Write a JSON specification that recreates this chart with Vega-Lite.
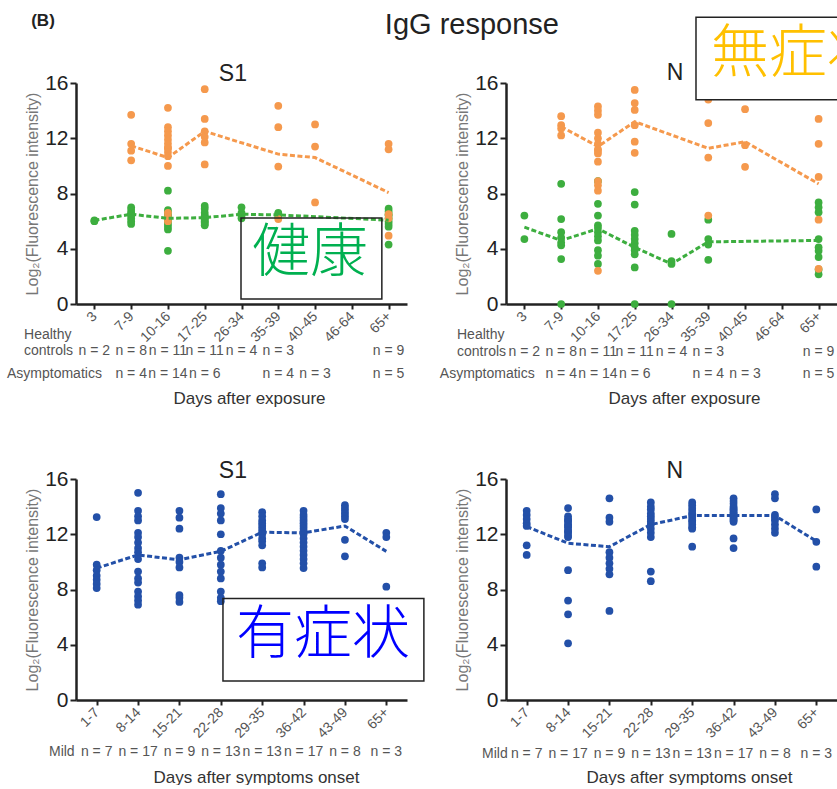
{
"$schema":"https://vega.github.io/schema/vega-lite/v6.json",
"padding":{"left":6,"top":10,"right":0,"bottom":0},
"columns":2,
"bounds":"flush",
"spacing":{"row":175,"column":99},
"config":{"view":{"stroke":null},"font":"Liberation Sans",
 "axisY":{"titleFontSize":16,"titleFontWeight":"normal","titleColor":"#777","titlePadding":4,"labelFontSize":21,"labelColor":"#222","labelPadding":2,"tickSize":6,"tickWidth":2,"tickColor":"#222","domainColor":"#222","domainWidth":2.5,"grid":false},
 "axisX":{"titleBaseline":"middle","titleFontSize":17,"titleFontWeight":"normal","titleColor":"#333","labelAngle":-45,"labelAlign":"right","labelBaseline":"middle","labelFontSize":14,"labelColor":"#555","labelPadding":5,"tickSize":5,"tickWidth":2,"tickColor":"#222","domainColor":"#222","domainWidth":2.5,"grid":false}},
"datasets":{
"tl_pts":[
{"days":"3","group":"Healthy controls","value":6.05},{"days":"3","group":"Healthy controls","value":6.0},
{"days":"7-9","group":"Healthy controls","value":7.0},{"days":"7-9","group":"Healthy controls","value":6.8},{"days":"7-9","group":"Healthy controls","value":6.6},{"days":"7-9","group":"Healthy controls","value":6.5},{"days":"7-9","group":"Healthy controls","value":6.4},{"days":"7-9","group":"Healthy controls","value":6.2},{"days":"7-9","group":"Healthy controls","value":6.0},{"days":"7-9","group":"Healthy controls","value":5.8},
{"days":"10-16","group":"Healthy controls","value":8.2},{"days":"10-16","group":"Healthy controls","value":6.8},{"days":"10-16","group":"Healthy controls","value":6.6},{"days":"10-16","group":"Healthy controls","value":6.4},{"days":"10-16","group":"Healthy controls","value":6.3},{"days":"10-16","group":"Healthy controls","value":6.2},{"days":"10-16","group":"Healthy controls","value":6.0},{"days":"10-16","group":"Healthy controls","value":5.8},{"days":"10-16","group":"Healthy controls","value":5.6},{"days":"10-16","group":"Healthy controls","value":5.4},{"days":"10-16","group":"Healthy controls","value":3.85},
{"days":"17-25","group":"Healthy controls","value":7.1},{"days":"17-25","group":"Healthy controls","value":6.9},{"days":"17-25","group":"Healthy controls","value":6.6},{"days":"17-25","group":"Healthy controls","value":6.4},{"days":"17-25","group":"Healthy controls","value":6.3},{"days":"17-25","group":"Healthy controls","value":6.2},{"days":"17-25","group":"Healthy controls","value":6.1},{"days":"17-25","group":"Healthy controls","value":6.0},{"days":"17-25","group":"Healthy controls","value":5.9},{"days":"17-25","group":"Healthy controls","value":5.8},{"days":"17-25","group":"Healthy controls","value":5.7},
{"days":"26-34","group":"Healthy controls","value":7.0},{"days":"26-34","group":"Healthy controls","value":6.6},{"days":"26-34","group":"Healthy controls","value":6.4},{"days":"26-34","group":"Healthy controls","value":6.2},
{"days":"35-39","group":"Healthy controls","value":6.6},{"days":"35-39","group":"Healthy controls","value":6.5},{"days":"35-39","group":"Healthy controls","value":6.3},
{"days":"65+","group":"Healthy controls","value":6.9},{"days":"65+","group":"Healthy controls","value":6.7},{"days":"65+","group":"Healthy controls","value":6.5},{"days":"65+","group":"Healthy controls","value":6.4},{"days":"65+","group":"Healthy controls","value":6.2},{"days":"65+","group":"Healthy controls","value":6.0},{"days":"65+","group":"Healthy controls","value":5.8},{"days":"65+","group":"Healthy controls","value":5.6},{"days":"65+","group":"Healthy controls","value":4.3},
{"days":"7-9","group":"Asymptomatics","value":13.7},{"days":"7-9","group":"Asymptomatics","value":11.6},{"days":"7-9","group":"Asymptomatics","value":11.1},{"days":"7-9","group":"Asymptomatics","value":10.4},
{"days":"10-16","group":"Asymptomatics","value":14.2},{"days":"10-16","group":"Asymptomatics","value":12.8},{"days":"10-16","group":"Asymptomatics","value":12.5},{"days":"10-16","group":"Asymptomatics","value":12.2},{"days":"10-16","group":"Asymptomatics","value":11.9},{"days":"10-16","group":"Asymptomatics","value":11.6},{"days":"10-16","group":"Asymptomatics","value":11.3},{"days":"10-16","group":"Asymptomatics","value":11.3},{"days":"10-16","group":"Asymptomatics","value":11.0},{"days":"10-16","group":"Asymptomatics","value":10.7},{"days":"10-16","group":"Asymptomatics","value":10.0},{"days":"10-16","group":"Asymptomatics","value":6.6},{"days":"10-16","group":"Asymptomatics","value":6.3},{"days":"10-16","group":"Asymptomatics","value":6.0},
{"days":"17-25","group":"Asymptomatics","value":15.55},{"days":"17-25","group":"Asymptomatics","value":13.4},{"days":"17-25","group":"Asymptomatics","value":12.5},{"days":"17-25","group":"Asymptomatics","value":12.1},{"days":"17-25","group":"Asymptomatics","value":11.7},{"days":"17-25","group":"Asymptomatics","value":10.1},
{"days":"35-39","group":"Asymptomatics","value":14.35},{"days":"35-39","group":"Asymptomatics","value":12.8},{"days":"35-39","group":"Asymptomatics","value":9.95},{"days":"35-39","group":"Asymptomatics","value":6.15},
{"days":"40-45","group":"Asymptomatics","value":13.0},{"days":"40-45","group":"Asymptomatics","value":11.4},{"days":"40-45","group":"Asymptomatics","value":7.35},
{"days":"65+","group":"Asymptomatics","value":11.6},{"days":"65+","group":"Asymptomatics","value":11.2},{"days":"65+","group":"Asymptomatics","value":6.5},{"days":"65+","group":"Asymptomatics","value":6.2},{"days":"65+","group":"Asymptomatics","value":4.95}
],
"tl_mean":[
{"days":"3","group":"Healthy controls","value":6.05},{"days":"7-9","group":"Healthy controls","value":6.5},{"days":"10-16","group":"Healthy controls","value":6.2},{"days":"17-25","group":"Healthy controls","value":6.25},{"days":"26-34","group":"Healthy controls","value":6.5},{"days":"35-39","group":"Healthy controls","value":6.45},{"days":"65+","group":"Healthy controls","value":6.07},
{"days":"7-9","group":"Asymptomatics","value":11.45},{"days":"10-16","group":"Asymptomatics","value":10.6},{"days":"17-25","group":"Asymptomatics","value":12.5},{"days":"35-39","group":"Asymptomatics","value":10.85},{"days":"40-45","group":"Asymptomatics","value":10.6},{"days":"65+","group":"Asymptomatics","value":8.07}
],
"tr_pts":[
{"days":"3","group":"Healthy controls","value":6.4},{"days":"3","group":"Healthy controls","value":4.7},
{"days":"7-9","group":"Healthy controls","value":8.7},{"days":"7-9","group":"Healthy controls","value":6.15},{"days":"7-9","group":"Healthy controls","value":5.2},{"days":"7-9","group":"Healthy controls","value":4.8},{"days":"7-9","group":"Healthy controls","value":4.45},{"days":"7-9","group":"Healthy controls","value":4.25},{"days":"7-9","group":"Healthy controls","value":3.25},{"days":"7-9","group":"Healthy controls","value":0},
{"days":"10-16","group":"Healthy controls","value":8.9},{"days":"10-16","group":"Healthy controls","value":7.25},{"days":"10-16","group":"Healthy controls","value":6.4},{"days":"10-16","group":"Healthy controls","value":5.7},{"days":"10-16","group":"Healthy controls","value":5.5},{"days":"10-16","group":"Healthy controls","value":5.2},{"days":"10-16","group":"Healthy controls","value":4.9},{"days":"10-16","group":"Healthy controls","value":4.6},{"days":"10-16","group":"Healthy controls","value":3.9},{"days":"10-16","group":"Healthy controls","value":3.5},{"days":"10-16","group":"Healthy controls","value":2.9},
{"days":"17-25","group":"Healthy controls","value":8.1},{"days":"17-25","group":"Healthy controls","value":7.2},{"days":"17-25","group":"Healthy controls","value":5.3},{"days":"17-25","group":"Healthy controls","value":5.0},{"days":"17-25","group":"Healthy controls","value":4.7},{"days":"17-25","group":"Healthy controls","value":4.4},{"days":"17-25","group":"Healthy controls","value":4.1},{"days":"17-25","group":"Healthy controls","value":3.9},{"days":"17-25","group":"Healthy controls","value":3.6},{"days":"17-25","group":"Healthy controls","value":2.65},{"days":"17-25","group":"Healthy controls","value":0},
{"days":"26-34","group":"Healthy controls","value":5.07},{"days":"26-34","group":"Healthy controls","value":3.1},{"days":"26-34","group":"Healthy controls","value":2.9},{"days":"26-34","group":"Healthy controls","value":0},
{"days":"35-39","group":"Healthy controls","value":6.1},{"days":"35-39","group":"Healthy controls","value":4.7},{"days":"35-39","group":"Healthy controls","value":4.3},{"days":"35-39","group":"Healthy controls","value":3.2},
{"days":"65+","group":"Healthy controls","value":7.35},{"days":"65+","group":"Healthy controls","value":7.0},{"days":"65+","group":"Healthy controls","value":6.65},{"days":"65+","group":"Healthy controls","value":4.7},{"days":"65+","group":"Healthy controls","value":4.1},{"days":"65+","group":"Healthy controls","value":3.85},{"days":"65+","group":"Healthy controls","value":3.4},{"days":"65+","group":"Healthy controls","value":2.5},{"days":"65+","group":"Healthy controls","value":2.15},
{"days":"7-9","group":"Asymptomatics","value":13.6},{"days":"7-9","group":"Asymptomatics","value":12.95},{"days":"7-9","group":"Asymptomatics","value":12.7},{"days":"7-9","group":"Asymptomatics","value":12.2},
{"days":"10-16","group":"Asymptomatics","value":14.3},{"days":"10-16","group":"Asymptomatics","value":14.0},{"days":"10-16","group":"Asymptomatics","value":13.7},{"days":"10-16","group":"Asymptomatics","value":12.4},{"days":"10-16","group":"Asymptomatics","value":12.0},{"days":"10-16","group":"Asymptomatics","value":11.6},{"days":"10-16","group":"Asymptomatics","value":11.2},{"days":"10-16","group":"Asymptomatics","value":11.1},{"days":"10-16","group":"Asymptomatics","value":10.9},{"days":"10-16","group":"Asymptomatics","value":10.3},{"days":"10-16","group":"Asymptomatics","value":8.9},{"days":"10-16","group":"Asymptomatics","value":8.6},{"days":"10-16","group":"Asymptomatics","value":8.2},{"days":"10-16","group":"Asymptomatics","value":2.4},
{"days":"17-25","group":"Asymptomatics","value":15.5},{"days":"17-25","group":"Asymptomatics","value":14.55},{"days":"17-25","group":"Asymptomatics","value":14.05},{"days":"17-25","group":"Asymptomatics","value":12.95},{"days":"17-25","group":"Asymptomatics","value":11.75},{"days":"17-25","group":"Asymptomatics","value":10.95},
{"days":"35-39","group":"Asymptomatics","value":14.8},{"days":"35-39","group":"Asymptomatics","value":13.1},{"days":"35-39","group":"Asymptomatics","value":10.6},{"days":"35-39","group":"Asymptomatics","value":6.4},
{"days":"40-45","group":"Asymptomatics","value":14.1},{"days":"40-45","group":"Asymptomatics","value":11.5},{"days":"40-45","group":"Asymptomatics","value":9.93},
{"days":"65+","group":"Asymptomatics","value":13.4},{"days":"65+","group":"Asymptomatics","value":11.6},{"days":"65+","group":"Asymptomatics","value":9.2},{"days":"65+","group":"Asymptomatics","value":6.1},{"days":"65+","group":"Asymptomatics","value":2.55}
],
"tr_mean":[
{"days":"3","group":"Healthy controls","value":5.56},{"days":"7-9","group":"Healthy controls","value":4.6},{"days":"10-16","group":"Healthy controls","value":5.45},{"days":"17-25","group":"Healthy controls","value":4.1},{"days":"26-34","group":"Healthy controls","value":2.9},{"days":"35-39","group":"Healthy controls","value":4.5},{"days":"65+","group":"Healthy controls","value":4.6},
{"days":"7-9","group":"Asymptomatics","value":12.84},{"days":"10-16","group":"Asymptomatics","value":11.4},{"days":"17-25","group":"Asymptomatics","value":13.2},{"days":"35-39","group":"Asymptomatics","value":11.27},{"days":"40-45","group":"Asymptomatics","value":11.75},{"days":"65+","group":"Asymptomatics","value":8.7}
],
"top_counts":[
{"days":"3","group":"Healthy controls","label":"n = 2"},{"days":"7-9","group":"Healthy controls","label":"n = 8"},{"days":"10-16","group":"Healthy controls","label":"n = 11"},{"days":"17-25","group":"Healthy controls","label":"n = 11"},{"days":"26-34","group":"Healthy controls","label":"n = 4"},{"days":"35-39","group":"Healthy controls","label":"n = 3"},{"days":"65+","group":"Healthy controls","label":"n = 9"},
{"days":"7-9","group":"Asymptomatics","label":"n = 4"},{"days":"10-16","group":"Asymptomatics","label":"n = 14"},{"days":"17-25","group":"Asymptomatics","label":"n = 6"},{"days":"35-39","group":"Asymptomatics","label":"n = 4"},{"days":"40-45","group":"Asymptomatics","label":"n = 3"},{"days":"65+","group":"Asymptomatics","label":"n = 5"}
],
"bl_pts":[
{"days":"1-7","value":13.24},{"days":"1-7","value":9.8},{"days":"1-7","value":9.4},{"days":"1-7","value":9.0},{"days":"1-7","value":8.7},{"days":"1-7","value":8.4},{"days":"1-7","value":8.1},
{"days":"8-14","value":15.0},{"days":"8-14","value":13.7},{"days":"8-14","value":13.3},{"days":"8-14","value":13.0},{"days":"8-14","value":12.1},{"days":"8-14","value":11.8},{"days":"8-14","value":11.4},{"days":"8-14","value":11.0},{"days":"8-14","value":10.7},{"days":"8-14","value":10.2},{"days":"8-14","value":9.3},{"days":"8-14","value":8.8},{"days":"8-14","value":8.5},{"days":"8-14","value":7.85},{"days":"8-14","value":7.5},{"days":"8-14","value":7.2},{"days":"8-14","value":6.9},
{"days":"15-21","value":13.7},{"days":"15-21","value":13.2},{"days":"15-21","value":12.4},{"days":"15-21","value":10.3},{"days":"15-21","value":10.0},{"days":"15-21","value":9.6},{"days":"15-21","value":7.6},{"days":"15-21","value":7.4},{"days":"15-21","value":7.1},
{"days":"22-28","value":14.9},{"days":"22-28","value":13.9},{"days":"22-28","value":13.5},{"days":"22-28","value":13.0},{"days":"22-28","value":12.0},{"days":"22-28","value":10.8},{"days":"22-28","value":10.3},{"days":"22-28","value":9.8},{"days":"22-28","value":9.3},{"days":"22-28","value":8.8},{"days":"22-28","value":7.85},{"days":"22-28","value":7.4},{"days":"22-28","value":7.15},
{"days":"29-35","value":13.6},{"days":"29-35","value":13.3},{"days":"29-35","value":13.0},{"days":"29-35","value":12.8},{"days":"29-35","value":12.6},{"days":"29-35","value":12.4},{"days":"29-35","value":12.2},{"days":"29-35","value":12.0},{"days":"29-35","value":11.7},{"days":"29-35","value":11.5},{"days":"29-35","value":11.2},{"days":"29-35","value":9.9},{"days":"29-35","value":9.6},
{"days":"36-42","value":13.7},{"days":"36-42","value":13.4},{"days":"36-42","value":13.2},{"days":"36-42","value":13.0},{"days":"36-42","value":12.8},{"days":"36-42","value":12.6},{"days":"36-42","value":12.4},{"days":"36-42","value":12.2},{"days":"36-42","value":12.0},{"days":"36-42","value":11.7},{"days":"36-42","value":11.4},{"days":"36-42","value":11.1},{"days":"36-42","value":10.8},{"days":"36-42","value":10.5},{"days":"36-42","value":10.2},{"days":"36-42","value":9.9},{"days":"36-42","value":9.55},
{"days":"43-49","value":14.1},{"days":"43-49","value":13.9},{"days":"43-49","value":13.7},{"days":"43-49","value":13.5},{"days":"43-49","value":13.3},{"days":"43-49","value":13.1},{"days":"43-49","value":11.6},{"days":"43-49","value":10.4},
{"days":"65+","value":12.1},{"days":"65+","value":11.8},{"days":"65+","value":8.2}
],
"bl_mean":[
{"days":"1-7","value":9.55},{"days":"8-14","value":10.5},{"days":"15-21","value":10.15},{"days":"22-28","value":10.76},{"days":"29-35","value":12.15},{"days":"36-42","value":12.1},{"days":"43-49","value":12.6},{"days":"65+","value":10.76}
],
"br_pts":[
{"days":"1-7","value":13.7},{"days":"1-7","value":13.4},{"days":"1-7","value":13.1},{"days":"1-7","value":12.8},{"days":"1-7","value":12.6},{"days":"1-7","value":11.2},{"days":"1-7","value":10.5},
{"days":"8-14","value":13.9},{"days":"8-14","value":13.3},{"days":"8-14","value":13.1},{"days":"8-14","value":13.0},{"days":"8-14","value":12.9},{"days":"8-14","value":12.7},{"days":"8-14","value":12.6},{"days":"8-14","value":12.5},{"days":"8-14","value":12.3},{"days":"8-14","value":12.2},{"days":"8-14","value":12.1},{"days":"8-14","value":11.9},{"days":"8-14","value":11.8},{"days":"8-14","value":9.4},{"days":"8-14","value":7.2},{"days":"8-14","value":6.2},{"days":"8-14","value":4.1},
{"days":"15-21","value":14.6},{"days":"15-21","value":13.2},{"days":"15-21","value":12.9},{"days":"15-21","value":10.7},{"days":"15-21","value":10.3},{"days":"15-21","value":9.9},{"days":"15-21","value":9.5},{"days":"15-21","value":9.1},{"days":"15-21","value":6.45},
{"days":"22-28","value":14.3},{"days":"22-28","value":14.0},{"days":"22-28","value":13.8},{"days":"22-28","value":13.5},{"days":"22-28","value":13.3},{"days":"22-28","value":13.1},{"days":"22-28","value":12.9},{"days":"22-28","value":12.7},{"days":"22-28","value":12.4},{"days":"22-28","value":12.1},{"days":"22-28","value":11.8},{"days":"22-28","value":9.3},{"days":"22-28","value":8.6},
{"days":"29-35","value":14.3},{"days":"29-35","value":14.1},{"days":"29-35","value":13.9},{"days":"29-35","value":13.7},{"days":"29-35","value":13.5},{"days":"29-35","value":13.4},{"days":"29-35","value":13.2},{"days":"29-35","value":13.0},{"days":"29-35","value":12.9},{"days":"29-35","value":12.7},{"days":"29-35","value":12.5},{"days":"29-35","value":12.4},{"days":"29-35","value":11.1},
{"days":"36-42","value":14.6},{"days":"36-42","value":14.4},{"days":"36-42","value":14.2},{"days":"36-42","value":14.0},{"days":"36-42","value":13.9},{"days":"36-42","value":13.8},{"days":"36-42","value":13.7},{"days":"36-42","value":13.6},{"days":"36-42","value":13.5},{"days":"36-42","value":13.4},{"days":"36-42","value":13.3},{"days":"36-42","value":13.2},{"days":"36-42","value":13.1},{"days":"36-42","value":13.0},{"days":"36-42","value":12.9},{"days":"36-42","value":11.7},{"days":"36-42","value":11.0},
{"days":"43-49","value":14.9},{"days":"43-49","value":14.6},{"days":"43-49","value":13.4},{"days":"43-49","value":13.2},{"days":"43-49","value":13.0},{"days":"43-49","value":12.7},{"days":"43-49","value":12.4},{"days":"43-49","value":12.1},
{"days":"65+","value":13.8},{"days":"65+","value":11.45},{"days":"65+","value":9.65}
],
"br_mean":[
{"days":"1-7","value":12.55},{"days":"8-14","value":11.35},{"days":"15-21","value":11.1},{"days":"22-28","value":12.7},{"days":"29-35","value":13.35},{"days":"36-42","value":13.35},{"days":"43-49","value":13.35},{"days":"65+","value":11.5}
],
"bot_counts":[
{"days":"1-7","label":"n = 7"},{"days":"8-14","label":"n = 17"},{"days":"15-21","label":"n = 9"},{"days":"22-28","label":"n = 13"},{"days":"29-35","label":"n = 13"},{"days":"36-42","label":"n = 17"},{"days":"43-49","label":"n = 8"},{"days":"65+","label":"n = 3"}
]
},
"concat":[
{"width":331,"height":221,
 "resolve":{"scale":{"x":"independent"}},
 "layer":[
  {"data":{"name":"tl_pts"},"mark":{"type":"circle","size":60,"opacity":1},
   "encoding":{
    "x":{"field":"days","type":"ordinal","scale":{"domain":["3","7-9","10-16","17-25","26-34","35-39","40-45","46-64","65+"]},"axis":{"title":"Days after exposure","titleX":173,"titleY":94}},
    "y":{"field":"value","type":"quantitative","scale":{"domain":[0,16],"nice":false},"axis":{"title":"Log₂(Fluorescence intensity)","values":[0,4,8,12,16]}},
    "color":{"field":"group","type":"nominal","scale":{"domain":["Healthy controls","Asymptomatics"],"range":["#3DAE3F","#F5994D"]},"legend":null}}},
  {"data":{"name":"tl_mean"},"mark":{"type":"line","strokeWidth":3,"strokeDash":[5,2.5]},
   "encoding":{
    "x":{"field":"days","type":"ordinal","scale":{"domain":["3","7-9","10-16","17-25","26-34","35-39","40-45","46-64","65+"]},"axis":null},
    "y":{"field":"value","type":"quantitative","scale":{"domain":[0,16],"nice":false},"axis":{"title":"Log₂(Fluorescence intensity)","values":[0,4,8,12,16]}},
    "color":{"field":"group","type":"nominal","scale":{"domain":["Healthy controls","Asymptomatics"],"range":["#3DAE3F","#F5994D"]},"legend":null},"order":{"value":null}}},
  {"data":{"name":"top_counts"},"transform":[{"filter":"datum.group === 'Healthy controls'"}],"mark":{"type":"text","fontSize":14,"color":"#555","baseline":"middle"},
   "encoding":{"x":{"field":"days","type":"ordinal","scale":{"domain":["3","7-9","10-16","17-25","26-34","35-39","40-45","46-64","65+"]},"axis":null},"text":{"field":"label"},
    "y":{"datum":-3.4,"type":"quantitative","scale":{"domain":[0,16],"nice":false},"axis":{"title":"Log₂(Fluorescence intensity)","values":[0,4,8,12,16]}}}},
  {"data":{"name":"top_counts"},"transform":[{"filter":"datum.group === 'Asymptomatics'"}],"mark":{"type":"text","fontSize":14,"color":"#555","baseline":"middle"},
   "encoding":{"x":{"field":"days","type":"ordinal","scale":{"domain":["3","7-9","10-16","17-25","26-34","35-39","40-45","46-64","65+"]},"axis":null},"text":{"field":"label"},
    "y":{"datum":-5.05,"type":"quantitative","scale":{"domain":[0,16],"nice":false},"axis":{"title":"Log₂(Fluorescence intensity)","values":[0,4,8,12,16]}}}},
  {"data":{"values":[{}]},"mark":{"type":"rect","fill":"transparent","stroke":"#222","strokeWidth":1.5},
   "encoding":{"x":{"datum":0.4985,"type":"quantitative","scale":{"domain":[0,1],"nice":false,"zero":false},"axis":null},"x2":{"datum":0.924},
               "y":{"datum":6.23,"type":"quantitative","scale":{"domain":[0,16],"nice":false},"axis":{"title":"Log₂(Fluorescence intensity)","values":[0,4,8,12,16]}},"y2":{"datum":0.36}}},
  {"data":{"values":[{}]},"mark":{"type":"text","text":"健康","font":"Noto Sans CJK JP","fontWeight":300,"fontSize":58,"color":"#00B050","align":"center","baseline":"middle"},
   "encoding":{"x":{"datum":0.707,"type":"quantitative","scale":{"domain":[0,1],"nice":false,"zero":false},"axis":null},"y":{"datum":3.59,"type":"quantitative","scale":{"domain":[0,16],"nice":false},"axis":{"title":"Log₂(Fluorescence intensity)","values":[0,4,8,12,16]}}}},
  {"data":{"values":[{}]},"mark":{"type":"text","text":"IgG response","fontSize":29,"color":"#222","align":"center","baseline":"alphabetic"},
   "encoding":{"x":{"datum":1.196,"type":"quantitative","scale":{"domain":[0,1],"nice":false,"zero":false},"axis":null},"y":{"datum":19.57,"type":"quantitative","scale":{"domain":[0,16],"nice":false},"axis":{"title":"Log₂(Fluorescence intensity)","values":[0,4,8,12,16]}}}},
  {"data":{"values":[{}]},"mark":{"type":"text","text":"S1","fontSize":23,"color":"#222","align":"center","baseline":"alphabetic"},
   "encoding":{"x":{"datum":0.474,"type":"quantitative","scale":{"domain":[0,1],"nice":false,"zero":false},"axis":null},"y":{"datum":16.16,"type":"quantitative","scale":{"domain":[0,16],"nice":false},"axis":{"title":"Log₂(Fluorescence intensity)","values":[0,4,8,12,16]}}}},
  {"data":{"values":[{}]},"mark":{"type":"text","text":"(B)","fontSize":17,"fontWeight":"bold","color":"#222","align":"center","baseline":"middle"},
   "encoding":{"x":{"datum":-0.0997,"type":"quantitative","scale":{"domain":[0,1],"nice":false,"zero":false},"axis":null},"y":{"datum":20.5,"type":"quantitative","scale":{"domain":[0,16],"nice":false},"axis":{"title":"Log₂(Fluorescence intensity)","values":[0,4,8,12,16]}}}},
  {"data":{"values":[{}]},"mark":{"type":"text","text":"Healthy","fontSize":14,"color":"#555","align":"left","baseline":"middle"},
   "encoding":{"x":{"datum":-0.157,"type":"quantitative","scale":{"domain":[0,1],"nice":false,"zero":false},"axis":null},"y":{"datum":-2.25,"type":"quantitative","scale":{"domain":[0,16],"nice":false},"axis":{"title":"Log₂(Fluorescence intensity)","values":[0,4,8,12,16]}}}},
  {"data":{"values":[{}]},"mark":{"type":"text","text":"controls","fontSize":14,"color":"#555","align":"left","baseline":"middle"},
   "encoding":{"x":{"datum":-0.157,"type":"quantitative","scale":{"domain":[0,1],"nice":false,"zero":false},"axis":null},"y":{"datum":-3.4,"type":"quantitative","scale":{"domain":[0,16],"nice":false},"axis":{"title":"Log₂(Fluorescence intensity)","values":[0,4,8,12,16]}}}},
  {"data":{"values":[{}]},"mark":{"type":"text","text":"Asymptomatics","fontSize":14,"color":"#555","align":"left","baseline":"middle"},
   "encoding":{"x":{"datum":-0.2085,"type":"quantitative","scale":{"domain":[0,1],"nice":false,"zero":false},"axis":null},"y":{"datum":-5.05,"type":"quantitative","scale":{"domain":[0,16],"nice":false},"axis":{"title":"Log₂(Fluorescence intensity)","values":[0,4,8,12,16]}}}}
 ]},
{"width":331,"height":221,
 "resolve":{"scale":{"x":"independent"}},
 "layer":[
  {"data":{"name":"tr_pts"},"mark":{"type":"circle","size":60,"opacity":1},
   "encoding":{
    "x":{"field":"days","type":"ordinal","scale":{"domain":["3","7-9","10-16","17-25","26-34","35-39","40-45","46-64","65+"]},"axis":{"title":"Days after exposure","titleX":178,"titleY":94}},
    "y":{"field":"value","type":"quantitative","scale":{"domain":[0,16],"nice":false},"axis":{"title":"Log₂(Fluorescence intensity)","values":[0,4,8,12,16]}},
    "color":{"field":"group","type":"nominal","scale":{"domain":["Healthy controls","Asymptomatics"],"range":["#3DAE3F","#F5994D"]},"legend":null}}},
  {"data":{"name":"tr_mean"},"mark":{"type":"line","strokeWidth":3,"strokeDash":[5,2.5]},
   "encoding":{
    "x":{"field":"days","type":"ordinal","scale":{"domain":["3","7-9","10-16","17-25","26-34","35-39","40-45","46-64","65+"]},"axis":null},
    "y":{"field":"value","type":"quantitative","scale":{"domain":[0,16],"nice":false},"axis":{"title":"Log₂(Fluorescence intensity)","values":[0,4,8,12,16]}},
    "color":{"field":"group","type":"nominal","scale":{"domain":["Healthy controls","Asymptomatics"],"range":["#3DAE3F","#F5994D"]},"legend":null},"order":{"value":null}}},
  {"data":{"name":"top_counts"},"transform":[{"filter":"datum.group === 'Healthy controls'"}],"mark":{"type":"text","fontSize":14,"color":"#555","baseline":"middle"},
   "encoding":{"x":{"field":"days","type":"ordinal","scale":{"domain":["3","7-9","10-16","17-25","26-34","35-39","40-45","46-64","65+"]},"axis":null},"text":{"field":"label"},
    "y":{"datum":-3.47,"type":"quantitative","scale":{"domain":[0,16],"nice":false},"axis":{"title":"Log₂(Fluorescence intensity)","values":[0,4,8,12,16]}}}},
  {"data":{"name":"top_counts"},"transform":[{"filter":"datum.group === 'Asymptomatics'"}],"mark":{"type":"text","fontSize":14,"color":"#555","baseline":"middle"},
   "encoding":{"x":{"field":"days","type":"ordinal","scale":{"domain":["3","7-9","10-16","17-25","26-34","35-39","40-45","46-64","65+"]},"axis":null},"text":{"field":"label"},
    "y":{"datum":-5.07,"type":"quantitative","scale":{"domain":[0,16],"nice":false},"axis":{"title":"Log₂(Fluorescence intensity)","values":[0,4,8,12,16]}}}},
  {"data":{"values":[{}]},"mark":{"type":"rect","fill":"white","stroke":"#222","strokeWidth":1.5},
   "encoding":{"x":{"datum":0.574,"type":"quantitative","scale":{"domain":[0,1],"nice":false,"zero":false},"axis":null},"x2":{"datum":1.02},
               "y":{"datum":20.76,"type":"quantitative","scale":{"domain":[0,16],"nice":false},"axis":{"title":"Log₂(Fluorescence intensity)","values":[0,4,8,12,16]}},"y2":{"datum":14.78}}},
  {"data":{"values":[{}]},"mark":{"type":"text","text":"無症状","font":"Noto Sans CJK JP","fontWeight":300,"fontSize":58,"color":"#FFC000","align":"left","baseline":"middle"},
   "encoding":{"x":{"datum":0.619,"type":"quantitative","scale":{"domain":[0,1],"nice":false,"zero":false},"axis":null},"y":{"datum":18.06,"type":"quantitative","scale":{"domain":[0,16],"nice":false},"axis":{"title":"Log₂(Fluorescence intensity)","values":[0,4,8,12,16]}}}},
  {"data":{"values":[{}]},"mark":{"type":"text","text":"N","fontSize":23,"color":"#222","align":"center","baseline":"alphabetic"},
   "encoding":{"x":{"datum":0.511,"type":"quantitative","scale":{"domain":[0,1],"nice":false,"zero":false},"axis":null},"y":{"datum":16.24,"type":"quantitative","scale":{"domain":[0,16],"nice":false},"axis":{"title":"Log₂(Fluorescence intensity)","values":[0,4,8,12,16]}}}},
  {"data":{"values":[{}]},"mark":{"type":"text","text":"Healthy","fontSize":14,"color":"#555","align":"left","baseline":"middle"},
   "encoding":{"x":{"datum":-0.148,"type":"quantitative","scale":{"domain":[0,1],"nice":false,"zero":false},"axis":null},"y":{"datum":-2.26,"type":"quantitative","scale":{"domain":[0,16],"nice":false},"axis":{"title":"Log₂(Fluorescence intensity)","values":[0,4,8,12,16]}}}},
  {"data":{"values":[{}]},"mark":{"type":"text","text":"controls","fontSize":14,"color":"#555","align":"left","baseline":"middle"},
   "encoding":{"x":{"datum":-0.148,"type":"quantitative","scale":{"domain":[0,1],"nice":false,"zero":false},"axis":null},"y":{"datum":-3.47,"type":"quantitative","scale":{"domain":[0,16],"nice":false},"axis":{"title":"Log₂(Fluorescence intensity)","values":[0,4,8,12,16]}}}},
  {"data":{"values":[{}]},"mark":{"type":"text","text":"Asymptomatics","fontSize":14,"color":"#555","align":"left","baseline":"middle"},
   "encoding":{"x":{"datum":-0.2,"type":"quantitative","scale":{"domain":[0,1],"nice":false,"zero":false},"axis":null},"y":{"datum":-5.07,"type":"quantitative","scale":{"domain":[0,16],"nice":false},"axis":{"title":"Log₂(Fluorescence intensity)","values":[0,4,8,12,16]}}}}
 ]},
{"width":331,"height":221,
 "resolve":{"scale":{"x":"independent"}},
 "layer":[
  {"data":{"name":"bl_pts"},"mark":{"type":"circle","size":60,"opacity":1,"color":"#2350A8"},
   "encoding":{
    "x":{"field":"days","type":"ordinal","scale":{"domain":["1-7","8-14","15-21","22-28","29-35","36-42","43-49","65+"]},"axis":{"title":"Days after symptoms onset","titleX":180,"titleY":77}},
    "y":{"field":"value","type":"quantitative","scale":{"domain":[0,16],"nice":false},"axis":{"title":"Log₂(Fluorescence intensity)","values":[0,4,8,12,16]}}}},
  {"data":{"name":"bl_mean"},"mark":{"type":"line","strokeWidth":3,"strokeDash":[5,2.5],"color":"#2350A8"},
   "encoding":{
    "x":{"field":"days","type":"ordinal","scale":{"domain":["1-7","8-14","15-21","22-28","29-35","36-42","43-49","65+"]},"axis":null},
    "y":{"field":"value","type":"quantitative","scale":{"domain":[0,16],"nice":false},"axis":{"title":"Log₂(Fluorescence intensity)","values":[0,4,8,12,16]}},"order":{"value":null}}},
  {"data":{"name":"bot_counts"},"mark":{"type":"text","fontSize":14,"color":"#555","baseline":"middle"},
   "encoding":{"x":{"field":"days","type":"ordinal","scale":{"domain":["1-7","8-14","15-21","22-28","29-35","36-42","43-49","65+"]},"axis":null},"text":{"field":"label"},
    "y":{"datum":-3.8,"type":"quantitative","scale":{"domain":[0,16],"nice":false},"axis":{"title":"Log₂(Fluorescence intensity)","values":[0,4,8,12,16]}}}},
  {"data":{"values":[{}]},"mark":{"type":"rect","fill":"transparent","stroke":"#222","strokeWidth":1.5},
   "encoding":{"x":{"datum":0.444,"type":"quantitative","scale":{"domain":[0,1],"nice":false,"zero":false},"axis":null},"x2":{"datum":1.051},
               "y":{"datum":7.35,"type":"quantitative","scale":{"domain":[0,16],"nice":false},"axis":{"title":"Log₂(Fluorescence intensity)","values":[0,4,8,12,16]}},"y2":{"datum":1.38}}},
  {"data":{"values":[{}]},"mark":{"type":"text","text":"有症状","font":"Noto Sans CJK JP","fontWeight":300,"fontSize":58,"color":"#0000FF","align":"center","baseline":"middle"},
   "encoding":{"x":{"datum":0.746,"type":"quantitative","scale":{"domain":[0,1],"nice":false,"zero":false},"axis":null},"y":{"datum":4.65,"type":"quantitative","scale":{"domain":[0,16],"nice":false},"axis":{"title":"Log₂(Fluorescence intensity)","values":[0,4,8,12,16]}}}},
  {"data":{"values":[{}]},"mark":{"type":"text","text":"S1","fontSize":23,"color":"#222","align":"center","baseline":"alphabetic"},
   "encoding":{"x":{"datum":0.474,"type":"quantitative","scale":{"domain":[0,1],"nice":false,"zero":false},"axis":null},"y":{"datum":16.05,"type":"quantitative","scale":{"domain":[0,16],"nice":false},"axis":{"title":"Log₂(Fluorescence intensity)","values":[0,4,8,12,16]}}}},
  {"data":{"values":[{}]},"mark":{"type":"text","text":"Mild","fontSize":14,"color":"#555","align":"left","baseline":"middle"},
   "encoding":{"x":{"datum":-0.0816,"type":"quantitative","scale":{"domain":[0,1],"nice":false,"zero":false},"axis":null},"y":{"datum":-3.8,"type":"quantitative","scale":{"domain":[0,16],"nice":false},"axis":{"title":"Log₂(Fluorescence intensity)","values":[0,4,8,12,16]}}}}
 ]},
{"width":331,"height":221,
 "resolve":{"scale":{"x":"independent"}},
 "layer":[
  {"data":{"name":"br_pts"},"mark":{"type":"circle","size":60,"opacity":1,"color":"#2350A8"},
   "encoding":{
    "x":{"field":"days","type":"ordinal","scale":{"domain":["1-7","8-14","15-21","22-28","29-35","36-42","43-49","65+"]},"axis":{"title":"Days after symptoms onset","titleX":183,"titleY":77}},
    "y":{"field":"value","type":"quantitative","scale":{"domain":[0,16],"nice":false},"axis":{"title":"Log₂(Fluorescence intensity)","values":[0,4,8,12,16]}}}},
  {"data":{"name":"br_mean"},"mark":{"type":"line","strokeWidth":3,"strokeDash":[5,2.5],"color":"#2350A8"},
   "encoding":{
    "x":{"field":"days","type":"ordinal","scale":{"domain":["1-7","8-14","15-21","22-28","29-35","36-42","43-49","65+"]},"axis":null},
    "y":{"field":"value","type":"quantitative","scale":{"domain":[0,16],"nice":false},"axis":{"title":"Log₂(Fluorescence intensity)","values":[0,4,8,12,16]}},"order":{"value":null}}},
  {"data":{"name":"bot_counts"},"mark":{"type":"text","fontSize":14,"color":"#555","baseline":"middle"},
   "encoding":{"x":{"field":"days","type":"ordinal","scale":{"domain":["1-7","8-14","15-21","22-28","29-35","36-42","43-49","65+"]},"axis":null},"text":{"field":"label"},
    "y":{"datum":-3.9,"type":"quantitative","scale":{"domain":[0,16],"nice":false},"axis":{"title":"Log₂(Fluorescence intensity)","values":[0,4,8,12,16]}}}},
  {"data":{"values":[{}]},"mark":{"type":"text","text":"N","fontSize":23,"color":"#222","align":"center","baseline":"alphabetic"},
   "encoding":{"x":{"datum":0.51,"type":"quantitative","scale":{"domain":[0,1],"nice":false,"zero":false},"axis":null},"y":{"datum":16.05,"type":"quantitative","scale":{"domain":[0,16],"nice":false},"axis":{"title":"Log₂(Fluorescence intensity)","values":[0,4,8,12,16]}}}},
  {"data":{"values":[{}]},"mark":{"type":"text","text":"Mild","fontSize":14,"color":"#555","align":"left","baseline":"middle"},
   "encoding":{"x":{"datum":-0.0725,"type":"quantitative","scale":{"domain":[0,1],"nice":false,"zero":false},"axis":null},"y":{"datum":-3.9,"type":"quantitative","scale":{"domain":[0,16],"nice":false},"axis":{"title":"Log₂(Fluorescence intensity)","values":[0,4,8,12,16]}}}}
 ]}
]
}
